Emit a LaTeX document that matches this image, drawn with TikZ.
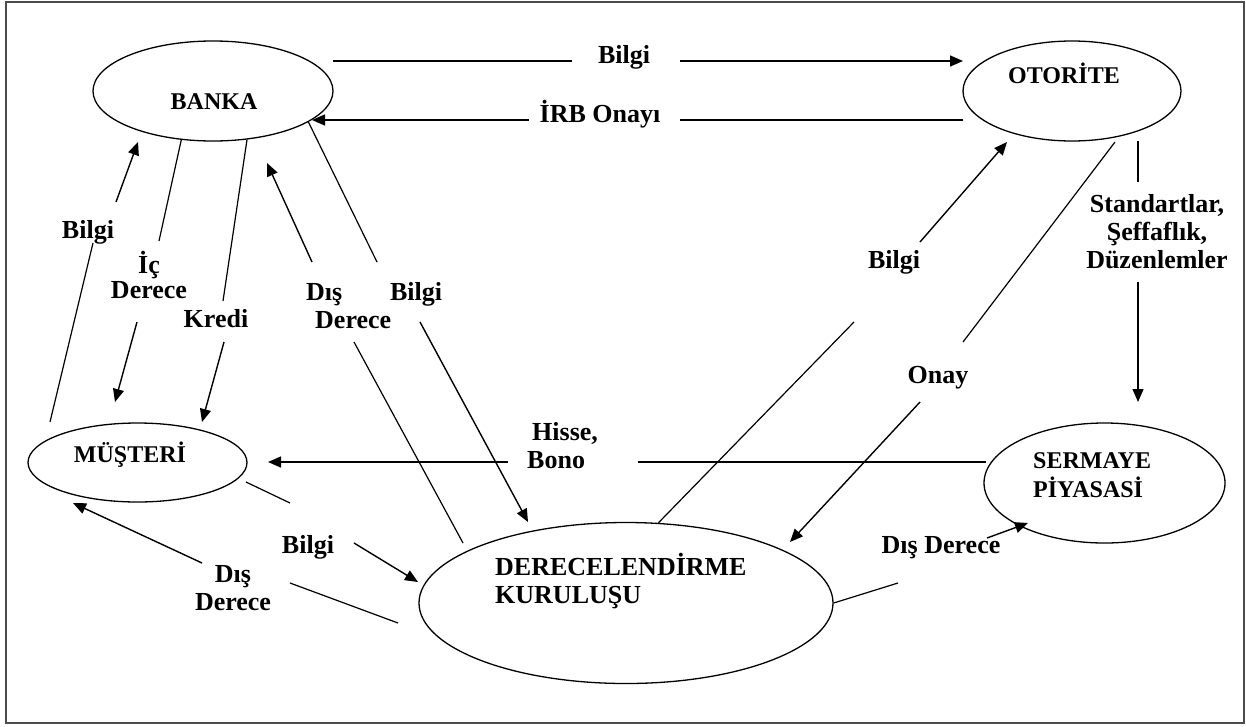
\documentclass[tikz,border=0pt]{standalone}
\usepackage{fontspec}
\setmainfont{Liberation Serif}
\usetikzlibrary{shapes.geometric,arrows.meta}
\begin{document}
\begin{tikzpicture}[x=1pt,y=-1pt,
  ent/.style={ellipse,draw,line width=1.3pt,inner sep=0pt},
  lbl/.style={font=\bfseries\fontsize{26pt}{28pt}\selectfont,inner sep=0pt,anchor=base,align=center},
  ntx/.style={font=\bfseries\fontsize{24pt}{29pt}\selectfont,inner sep=0pt,anchor=base,align=left},
  ln/.style={line width=1.2pt},
  arr/.style={line width=1.4pt,-{Triangle[length=13pt,width=11pt]}}
]
\useasboundingbox (0,0) rectangle (1246,726);
\draw[line width=1.5pt,black!70] (6,2) rectangle (1244,723);

% entities
\node[ent,minimum width=240pt,minimum height=100pt] (banka) at (213,91) {};
\node[ntx] (bankaT) at (214,109) {BANKA};
\node[ent,minimum width=218pt,minimum height=100pt] (otorite) at (1072,91) {};
\node[ntx] (otoriteT) at (1064,83) {OTORİTE};
\node[ent,minimum width=219pt,minimum height=79pt] (musteri) at (137.5,462.5) {};
\node[ntx] (musteriT) at (130,462) {MÜŞTERİ};
\node[ent,minimum width=414pt,minimum height=161pt] (derece) at (626,603) {};
\node[ntx,anchor=base west,font=\bfseries\fontsize{26pt}{28pt}\selectfont] (dereceT) at (495,603) {DERECELENDİRME\\KURULUŞU};
\node[ent,minimum width=241pt,minimum height=120pt] (sermaye) at (1104.5,483) {};
\node[ntx,anchor=base west] (sermayeT) at (1033,497) {SERMAYE\\PİYASASİ};

% labels (multi-line labels are placed by the baseline of their last line)
\node[lbl] (lBilgiTop) at (624,63) {Bilgi};
\node[lbl] (lIrb) at (600,122) {İRB Onayı};
\node[lbl] (lBilgiL) at (88,238) {Bilgi};
\node[lbl] (lIc) at (149,298) {İç\\[-3pt]Derece};
\node[lbl] (lKredi) at (216,327) {Kredi};
\node[lbl,anchor=base west,align=left] (lDis1) at (306,328) {Dış\\\hspace*{9pt}Derece};
\node[lbl] (lBilgiM) at (416,300) {Bilgi};
\node[lbl,anchor=base west,align=left] (lHisse) at (527,468) {\hspace*{5pt}Hisse,\\Bono};
\node[lbl] (lBilgiMD) at (308,553) {Bilgi};
\node[lbl] (lDis2) at (233,610) {Dış\\Derece};
\node[lbl] (lBilgiO) at (894,268) {Bilgi};
\node[lbl] (lOnay) at (938,383) {Onay};
\node[lbl] (lStd) at (1157,268) {Standartlar,\\Şeffaflık,\\Düzenlemler};
\node[lbl] (lDis3) at (941,553) {Dış Derece};

% connector ends
\coordinate (bt1) at (333,61);   \coordinate (bt2) at (572,61);
\coordinate (bt3) at (680,61);   \coordinate (bt4) at (963,61);
\coordinate (ir1) at (963,120);  \coordinate (ir2) at (680,120);
\coordinate (ir3) at (529,120);  \coordinate (ir4) at (312,120);
\coordinate (bl1) at (50,422);   \coordinate (bl2) at (93,243);
\coordinate (bl3) at (116,202);  \coordinate (bl4) at (138,142);
\coordinate (ic2) at (159,241);  \coordinate (ic3) at (137,322);
\coordinate (ic4) at (115,402);
\coordinate (kr2) at (223,301);  \coordinate (kr3) at (224,342);
\coordinate (kr4) at (202,422);
\coordinate (d11) at (463,543);  \coordinate (d12) at (354,342);
\coordinate (d13) at (312,262);  \coordinate (d14) at (267,163);
\coordinate (bm2) at (377,262);  \coordinate (bm3) at (420,322);
\coordinate (bm4) at (528,522);
\coordinate (hb1) at (986,462);  \coordinate (hb2) at (638,462);
\coordinate (hb3) at (508,462);  \coordinate (hb4) at (268,462);
\coordinate (md1) at (246,482);  \coordinate (md2) at (290,503);
\coordinate (md3) at (354,543);  \coordinate (md4) at (418,582);
\coordinate (d21) at (398,623);  \coordinate (d22) at (290,583);
\coordinate (d23) at (202,563);  \coordinate (d24) at (73,503);
\coordinate (bo2) at (854,322);  \coordinate (bo3) at (920,242);
\coordinate (bo4) at (1007,142);
\coordinate (on1) at (1115,142); \coordinate (on2) at (963,342);
\coordinate (on3) at (920,402);  \coordinate (on4) at (790,542);
\coordinate (st1) at (1138,141); \coordinate (st2) at (1138,182);
\coordinate (st3) at (1138,282); \coordinate (st4) at (1138,402);
\coordinate (d32) at (898,583);  \coordinate (d33) at (987,538);
\coordinate (d34) at (1028,523);

% connectors
\draw[ln] (bt1) -- (bt2);  \draw[arr] (bt3) -- (bt4);
\draw[ln] (ir1) -- (ir2);  \draw[arr] (ir3) -- (ir4);
\draw[ln] (bl1) -- (bl2);  \draw[arr] (bl3) -- (bl4);
\draw[ln] (banka.-123) -- (ic2);  \draw[arr] (ic3) -- (ic4);
\draw[ln] (banka.-55) -- (kr2);   \draw[arr] (kr3) -- (kr4);
\draw[ln] (d11) -- (d12);  \draw[arr] (d13) -- (d14);
\draw[ln] (banka.-18) -- (bm2);   \draw[arr] (bm3) -- (bm4);
\draw[ln] (hb1) -- (hb2);  \draw[arr] (hb3) -- (hb4);
\draw[ln] (md1) -- (md2);  \draw[arr] (md3) -- (md4);
\draw[ln] (d21) -- (d22);  \draw[arr] (d23) -- (d24);
\draw[ln] (derece.68) -- (bo2);   \draw[arr] (bo3) -- (bo4);
\draw[ln] (on1) -- (on2);  \draw[arr] (on3) -- (on4);
\draw[ln] (st1) -- (st2);  \draw[arr] (st3) -- (st4);
\draw[ln] (derece.east) -- (d32); \draw[arr] (d33) -- (d34);
\end{tikzpicture}
\end{document}
